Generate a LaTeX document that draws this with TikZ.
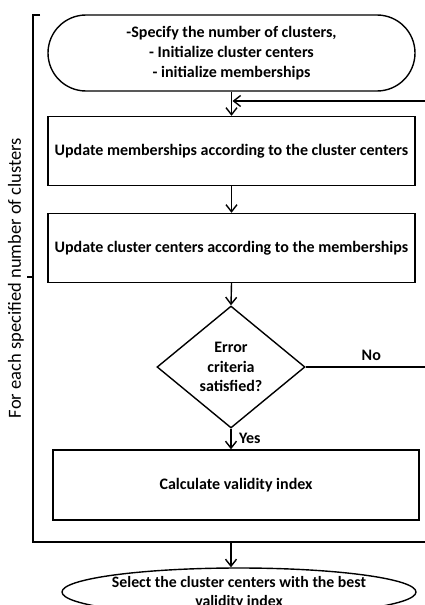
\documentclass[tikz,border=0pt]{standalone}
\usepackage{fontspec}
\setmainfont{Carlito}
\usetikzlibrary{shapes.geometric,shapes.misc,arrows.meta}
\tikzset{
  box/.style={draw,line width=1.4pt,minimum width=367pt,minimum height=69pt,inner sep=0pt,font=\fontsize{16}{20}\selectfont\bfseries},
  lbl/.style={font=\fontsize{16}{20}\selectfont\bfseries},
  arr/.style={line width=1.4pt,-{Straight Barb[length=7pt,width=11pt,line width=1.4pt]}}
}
\begin{document}
\begin{tikzpicture}[x=1pt,y=-1pt]
\useasboundingbox (0,0) rectangle (425,605);
\node[box,rounded rectangle,minimum height=76pt,align=center] (start) at (231.5,53) {-Specify the number of clusters,\\- Initialize cluster centers\\- initialize memberships};
\node[box] (upd) at (231.5,151) {Update memberships according to the cluster centers};
\node[box] (cen) at (231.5,248) {Update cluster centers according to the memberships};
\node[box,diamond,minimum width=148pt,minimum height=122pt,align=center,font=\fontsize{16}{19.5}\selectfont\bfseries] (err) at (231,367) {Error\\criteria\\satisfied?};
\node[box,minimum width=366pt,minimum height=70pt] (calc) at (236,485) {Calculate validity index};
\node[draw,line width=1.4pt,ellipse,minimum width=354pt,minimum height=48pt,inner sep=0pt] (sel) at (239,592) {};
\node[lbl,align=center,font=\fontsize{15.8}{19}\selectfont\bfseries] (seltxt) at (239,592.5) {Select the cluster centers with the best\\validity index};
\node[rotate=90,font=\fontsize{18.5}{20}\selectfont] (each) at (16,278) {For each specified number of clusters};
\coordinate (fb) at (425,101);
\coordinate (no) at (425,367);
\coordinate (tl) at (40,15);
\coordinate (br) at (425,542);
\coordinate (out) at (231,542);
\coordinate (tick) at (27,277);
\draw[line width=1.4pt] (tl) -- (33,15) -- (33,542) -- (br);
\draw[line width=1.4pt] (tick) -- (33,277);
\draw[arr] (start.south) -- (upd.north);
\draw[arr] (fb) -- ([xshift=1pt]start.south |- fb);
\draw[arr] (upd.south) -- (cen.north);
\draw[arr] (cen.south) -- (err.north);
\draw[line width=1.4pt] (err.east) -- (no) node[lbl,pos=0.55,above=2pt] (nolab) {No};
\draw[arr] (err.south) -- (err.south |- calc.north) node[lbl,pos=0.45,right=4pt] (yeslab) {Yes};
\draw[arr] (out) -- (out |- sel.north);
\end{tikzpicture}
\end{document}
